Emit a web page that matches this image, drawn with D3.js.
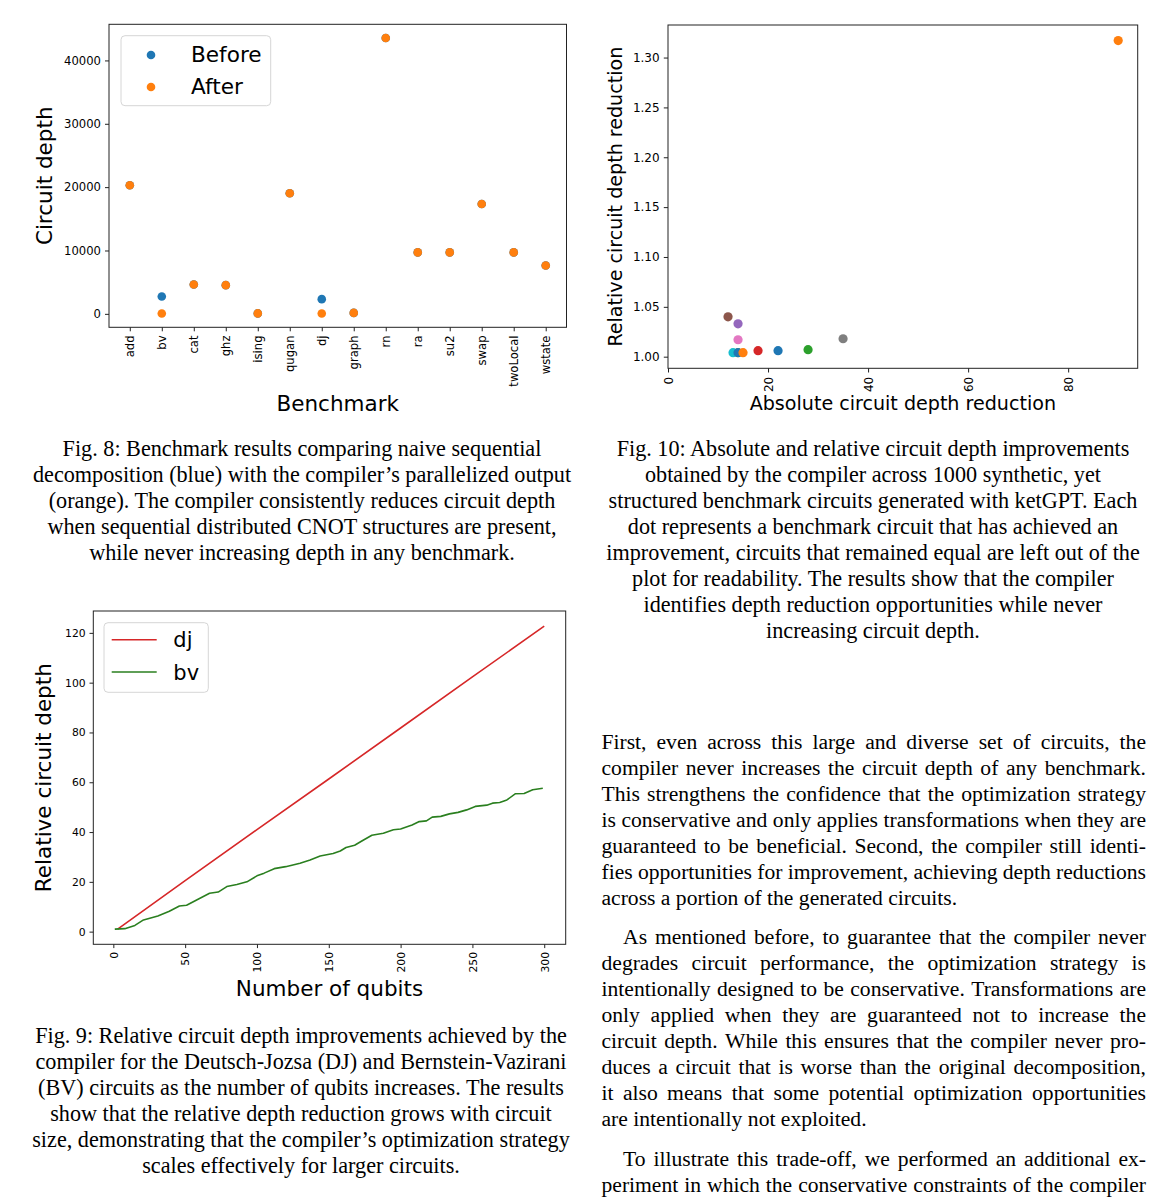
<!DOCTYPE html>
<html>
<head>
<meta charset="utf-8">
<script src="https://cdn.jsdelivr.net/npm/d3@7"></script>
<style>
  body { margin: 0; background: #fff; }
  svg { display: block; }
  .chart text { font-family: "DejaVu Sans", sans-serif; fill: #000; }
  .prose { font-family: "Liberation Serif", "Times New Roman", serif; font-size: 21.6px; fill: #000; }
  .caption { font-family: "Liberation Serif", "Times New Roman", serif; font-size: 22.2px; fill: #000; }
</style>
</head>
<body>
<svg id="page" width="1170" height="1200"></svg>
<script>
// Fig. 8: circuit depth per benchmark
const benchmarks = ['add', 'bv', 'cat', 'ghz', 'ising', 'qugan', 'dj', 'graph', 'rn', 'ra', 'su2', 'swap', 'twoLocal', 'wstate'];
const depthBefore = [20290, 2740, 4640, 4530, 70, 19030, 2320, 150, 43530, 9700, 9700, 17340, 9700, 7640];
const depthAfter = [20290, 60, 4640, 4530, 70, 19030, 50, 150, 43530, 9700, 9700, 17340, 9700, 7640];
const depthTicks = [0, 10000, 20000, 30000, 40000];

// Fig. 10: one dot per improved synthetic circuit (plot order)
const absReduction = [22, 90, 28, 18, 14, 12, 14, 35, 14, 13, 14, 15];
const relReduction = [1.006, 1.317, 1.007, 1.006, 1.033, 1.040, 1.017, 1.018, 1.004, 1.004, 1.004, 1.004];
const absTicks = [0, 20, 40, 60, 80];
const relTicks = [1.00, 1.05, 1.10, 1.15, 1.20, 1.25, 1.30];

// Fig. 9: relative depth vs number of qubits
const djQubits = [3, 50, 100, 150, 200, 250, 300];
const djDepth = [1, 20.5, 41, 61.3, 81.8, 102.3, 122.7];
const bvQubits = [1, 8, 15, 21, 31, 39, 46, 51, 58, 67, 73, 79, 86, 93, 100, 105, 112, 120, 130, 137, 144, 153, 158, 162, 168, 173, 180, 188, 195, 200, 208, 213, 218, 222, 228, 234, 240, 246, 252, 260, 264, 269, 274, 280, 286, 292, 299];
const bvDepth = [1, 1.2, 2.5, 4.7, 6.3, 8.2, 10.3, 10.6, 12.7, 15.4, 15.9, 18.1, 18.9, 20, 22.4, 23.5, 25.3, 26.1, 27.5, 28.8, 30.4, 31.4, 32.4, 33.8, 34.7, 36.4, 38.7, 39.5, 40.9, 41.2, 42.8, 44.2, 44.5, 46, 46.3, 47.3, 47.9, 48.9, 50.3, 50.8, 51.6, 51.9, 52.9, 55.4, 55.5, 57, 57.6];
const qubitTicks = [0, 50, 100, 150, 200, 250, 300];
const relDepthTicks = [0, 20, 40, 60, 80, 100, 120];

// Captions and body text, one entry per printed line
const fig8Caption = [
  'Fig. 8: Benchmark results comparing naive sequential',
  'decomposition (blue) with the compiler\u2019s parallelized output',
  '(orange). The compiler consistently reduces circuit depth',
  'when sequential distributed CNOT structures are present,',
  'while never increasing depth in any benchmark.'
];
const fig10Caption = [
  'Fig. 10: Absolute and relative circuit depth improvements',
  'obtained by the compiler across 1000 synthetic, yet',
  'structured benchmark circuits generated with ketGPT. Each',
  'dot represents a benchmark circuit that has achieved an',
  'improvement, circuits that remained equal are left out of the',
  'plot for readability. The results show that the compiler',
  'identifies depth reduction opportunities while never',
  'increasing circuit depth.'
];
const fig9Caption = [
  'Fig. 9: Relative circuit depth improvements achieved by the',
  'compiler for the Deutsch-Jozsa (DJ) and Bernstein-Vazirani',
  '(BV) circuits as the number of qubits increases. The results',
  'show that the relative depth reduction grows with circuit',
  'size, demonstrating that the compiler\u2019s optimization strategy',
  'scales effectively for larger circuits.'
];
const para1 = [
  'First, even across this large and diverse set of circuits, the',
  'compiler never increases the circuit depth of any benchmark.',
  'This strengthens the confidence that the optimization strategy',
  'is conservative and only applies transformations when they are',
  'guaranteed to be beneficial. Second, the compiler still identi-',
  'fies opportunities for improvement, achieving depth reductions',
  'across a portion of the generated circuits.'
];
const para2 = [
  'As mentioned before, to guarantee that the compiler never',
  'degrades circuit performance, the optimization strategy is',
  'intentionally designed to be conservative. Transformations are',
  'only applied when they are guaranteed not to increase the',
  'circuit depth. While this ensures that the compiler never pro-',
  'duces a circuit that is worse than the original decomposition,',
  'it also means that some potential optimization opportunities',
  'are intentionally not exploited.'
];
const para3 = [
  'To illustrate this trade-off, we performed an additional ex-',
  'periment in which the conservative constraints of the compiler'
];

const svg = d3.select('#page');
const palette = d3.schemeCategory10;
const spineColor = '#222';

function paddedDomain(values) {
  const [lo, hi] = d3.extent(values);
  const m = (hi - lo) * 0.05;
  return [lo - m, hi + m];
}

function drawFrame(g, box) {
  g.append('rect')
    .attr('x', box.left).attr('y', box.top)
    .attr('width', box.right - box.left).attr('height', box.bottom - box.top)
    .attr('fill', 'none').attr('stroke', spineColor).attr('stroke-width', 1);
}

function styleAxis(sel, fontSize) {
  sel.select('.domain').remove();
  sel.selectAll('.tick line').attr('stroke', spineColor);
  sel.selectAll('.tick text')
    .attr('font-size', fontSize + 'px')
    .attr('fill', '#111')
    .style('font-family', '"DejaVu Sans", sans-serif');
}

// matplotlib-style vertical tick labels reading upwards, hanging below the tick
function rotateXTicks(sel, offset) {
  sel.selectAll('.tick text')
    .attr('transform', 'rotate(-90)')
    .attr('text-anchor', 'end')
    .attr('x', -offset).attr('y', 0).attr('dy', '0.35em');
}

function axisTitle(g, text, x, y, size, rotate) {
  g.append('text')
    .attr('transform', `translate(${x},${y})` + (rotate ? ' rotate(-90)' : ''))
    .attr('text-anchor', 'middle')
    .attr('font-size', size + 'px')
    .attr('fill', '#000')
    .text(text);
}

function legendBox(g, x, y, w, h) {
  g.append('rect')
    .attr('x', x).attr('y', y).attr('width', w).attr('height', h)
    .attr('rx', 4).attr('fill', '#fff').attr('fill-opacity', 0.8)
    .attr('stroke', '#d6d6d6').attr('stroke-width', 1);
}

// ---------- Fig. 8 ----------
const box1 = { left: 109, right: 566.5, top: 24.3, bottom: 327.3 };
const x1 = d3.scalePoint().domain(benchmarks).range([box1.left, box1.right]).padding(0.65);
const y1 = d3.scaleLinear().domain(paddedDomain(depthBefore.concat(depthAfter))).range([box1.bottom, box1.top]);
const g1 = svg.append('g').attr('class', 'chart');

g1.append('g').attr('transform', `translate(0,${box1.bottom})`)
  .call(d3.axisBottom(x1).tickSize(4).tickPadding(0))
  .call(s => styleAxis(s, 11.6))
  .call(s => rotateXTicks(s, 8.2));
g1.append('g').attr('transform', `translate(${box1.left},0)`)
  .call(d3.axisLeft(y1).tickValues(depthTicks).tickFormat(d3.format('d')).tickSize(4).tickPadding(4))
  .call(s => styleAxis(s, 11.6));
drawFrame(g1, box1);

g1.append('g').selectAll('circle').data(benchmarks).join('circle')
  .attr('cx', d => x1(d))
  .attr('cy', (d, i) => y1(depthBefore[i]))
  .attr('r', 4.3).attr('fill', palette[0]);
g1.append('g').selectAll('circle').data(benchmarks).join('circle')
  .attr('cx', d => x1(d))
  .attr('cy', (d, i) => y1(depthAfter[i]))
  .attr('r', 4.3).attr('fill', palette[1]);

axisTitle(g1, 'Circuit depth', 51.5, (box1.top + box1.bottom) / 2, 21.5, true);
axisTitle(g1, 'Benchmark', (box1.left + box1.right) / 2, 410.5, 21.5, false);

legendBox(g1, 121, 35.7, 149.7, 70);
[['Before', 0, 55], ['After', 1, 87]].forEach(([label, c, cy]) => {
  g1.append('circle').attr('cx', 151).attr('cy', cy).attr('r', 4.3).attr('fill', palette[c]);
  g1.append('text').attr('x', 191).attr('y', cy + 7).attr('font-size', '21.6px').text(label);
});

// ---------- Fig. 10 ----------
const box2 = { left: 668, right: 1137.7, top: 25, bottom: 368.3 };
const absExt = d3.extent(absReduction);
const x2 = d3.scaleLinear()
  .domain([0, absExt[1] + 0.05 * (absExt[1] - absExt[0])])
  .range([box2.left, box2.right]);
const y2 = d3.scaleLinear().domain(paddedDomain(relReduction)).range([box2.bottom, box2.top]);
const g2 = svg.append('g').attr('class', 'chart');

g2.append('g').attr('transform', `translate(0,${box2.bottom})`)
  .call(d3.axisBottom(x2).tickValues(absTicks).tickSize(4.2).tickPadding(0))
  .call(s => styleAxis(s, 12))
  .call(s => rotateXTicks(s, 8.5));
g2.append('g').attr('transform', `translate(${box2.left},0)`)
  .call(d3.axisLeft(y2).tickValues(relTicks).tickFormat(d3.format('.2f')).tickSize(4.2).tickPadding(4.2))
  .call(s => styleAxis(s, 12));
drawFrame(g2, box2);

g2.append('g').selectAll('circle').data(absReduction).join('circle')
  .attr('cx', d => x2(d))
  .attr('cy', (d, i) => y2(relReduction[i]))
  .attr('r', 4.6)
  .attr('fill', (d, i) => palette[i % 10]);

axisTitle(g2, 'Relative circuit depth reduction', 622, (box2.top + box2.bottom) / 2, 19.1, true);
axisTitle(g2, 'Absolute circuit depth reduction', (box2.left + box2.right) / 2, 410, 19.1, false);

// ---------- Fig. 9 ----------
const box3 = { left: 93.3, right: 565.7, top: 611, bottom: 944.3 };
const x3 = d3.scaleLinear().domain(paddedDomain(djQubits.concat(bvQubits))).range([box3.left, box3.right]);
const y3 = d3.scaleLinear().domain(paddedDomain(djDepth.concat(bvDepth))).range([box3.bottom, box3.top]);
const g3 = svg.append('g').attr('class', 'chart');

g3.append('g').attr('transform', `translate(0,${box3.bottom})`)
  .call(d3.axisBottom(x3).tickValues(qubitTicks).tickSize(3.8).tickPadding(0))
  .call(s => styleAxis(s, 10.8))
  .call(s => rotateXTicks(s, 7.6));
g3.append('g').attr('transform', `translate(${box3.left},0)`)
  .call(d3.axisLeft(y3).tickValues(relDepthTicks).tickSize(3.8).tickPadding(3.8))
  .call(s => styleAxis(s, 10.8));
drawFrame(g3, box3);

const djColor = '#d62728';
const bvColor = '#2a7f1f';
const line3 = d3.line().x(d => x3(d[0])).y(d => y3(d[1]));
g3.append('path')
  .attr('d', line3(d3.zip(djQubits, djDepth)))
  .attr('fill', 'none').attr('stroke', djColor).attr('stroke-width', 1.6);
g3.append('path')
  .attr('d', line3(d3.zip(bvQubits, bvDepth)))
  .attr('fill', 'none').attr('stroke', bvColor).attr('stroke-width', 1.6)
  .attr('stroke-linejoin', 'round');

axisTitle(g3, 'Relative circuit depth', 51, (box3.top + box3.bottom) / 2, 21.5, true);
axisTitle(g3, 'Number of qubits', (box3.left + box3.right) / 2, 995.5, 21.5, false);

legendBox(g3, 104, 622.7, 104.3, 69.6);
[['dj', djColor, 639.7], ['bv', bvColor, 672]].forEach(([label, color, ly]) => {
  g3.append('line').attr('x1', 111.7).attr('x2', 156.7).attr('y1', ly).attr('y2', ly)
    .attr('stroke', color).attr('stroke-width', 1.6);
  g3.append('text').attr('x', 173.3).attr('y', ly + 7.5).attr('font-size', '21px').text(label);
});

// ---------- Text ----------
const prose = svg.append('g');

function centeredLines(lines, cx, firstBaseline) {
  lines.forEach((t, i) => {
    prose.append('text').attr('class', 'caption')
      .attr('x', cx).attr('y', firstBaseline + i * 26)
      .attr('text-anchor', 'middle').text(t);
  });
}

// Justify a line by distributing the free space between its words
function justifiedLine(text, x0, x1, y, justify) {
  const words = text.split(' ');
  const nodes = words.map(w => prose.append('text').attr('class', 'prose').attr('y', y).text(w));
  const widths = nodes.map(n => n.node().getComputedTextLength());
  const total = d3.sum(widths);
  const gap = justify && words.length > 1 ? (x1 - x0 - total) / (words.length - 1) : 5.4;
  let x = x0;
  nodes.forEach((n, i) => {
    n.attr('x', x);
    x += widths[i] + gap;
  });
}

function paragraph(lines, firstBaseline, indent, lastJustified) {
  lines.forEach((t, i) => {
    const last = i === lines.length - 1;
    justifiedLine(t, 601.5 + (i === 0 ? indent : 0), 1146, firstBaseline + i * 26, !last || lastJustified);
  });
}

centeredLines(fig8Caption, 302, 456);
centeredLines(fig10Caption, 873, 456);
centeredLines(fig9Caption, 301, 1043);
paragraph(para1, 749, 0, false);
paragraph(para2, 944, 21.6, false);
paragraph(para3, 1166, 21.6, true);
</script>
</body>
</html>
